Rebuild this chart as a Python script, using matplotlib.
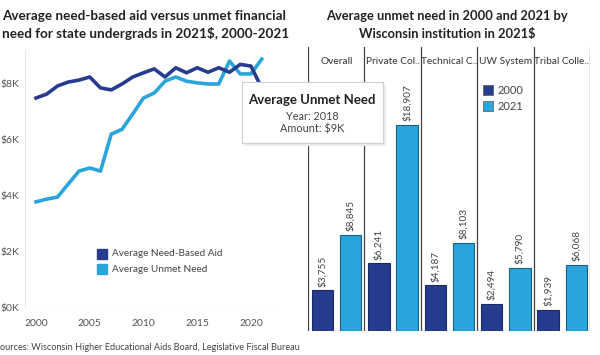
import matplotlib
matplotlib.use('Agg')
import matplotlib.pyplot as plt
from matplotlib.patches import Rectangle
import numpy as np

plt.rcParams['font.family'] = ['Lato', 'DejaVu Sans']

# line chart data (thousands of 2021$)
years = list(range(2000, 2022))
need_aid = [7.50, 7.64, 7.93, 8.07, 8.14, 8.25, 7.86, 7.79, 8.00, 8.25, 8.40,
            8.54, 8.25, 8.58, 8.40, 8.58, 8.42, 8.58, 8.42, 8.70, 8.64, 7.85]
unmet_need = [3.79, 3.89, 3.96, 4.43, 4.89, 5.00, 4.89, 6.21, 6.38, 6.93, 7.50,
              7.68, 8.10, 8.25, 8.10, 8.04, 8.00, 8.00, 8.82, 8.36, 8.36, 8.89]

# bar chart data
institutions = ['Overall', 'Private Col..', 'Technical C..', 'UW System', 'Tribal Colle..']
unmet_2000 = [3755, 6241, 4187, 2494, 1939]
unmet_2021 = [8845, 18907, 8103, 5790, 6068]

dark = '#283c8e'
light = '#2aa5dc'

W, H = 600, 355
fig = plt.figure(figsize=(6, 3.55), dpi=100)

def fx(px):
    return px / W

def fy(py):
    return 1 - py / H

# titles
tkw = dict(fontweight='bold', color='#222222', va='center')
fig.text(fx(2), fy(16), 'Average need-based aid versus unmet financial', ha='left', fontsize=9.7, **tkw)
fig.text(fx(2), fy(34), 'need for state undergrads in 2021$, 2000-2021', ha='left', fontsize=9.7, **tkw)
fig.text(fx(447), fy(16), 'Average unmet need in 2000 and 2021 by', ha='center', fontsize=9.3, **tkw)
fig.text(fx(447), fy(34), 'Wisconsin institution in 2021$', ha='center', fontsize=9.3, **tkw)

# left line chart
ax = fig.add_axes([fx(25), fy(308), fx(277 - 25), (308 - 50) / H])
ax.plot(years, need_aid, color=dark, lw=2.6, solid_joinstyle='round', zorder=3)
ax.plot(years, unmet_need, color=light, lw=2.6, solid_joinstyle='round', zorder=2)
ax.set_xlim(2000 - 11 / 10.75, 2000 + (277 - 36) / 10.75)
ax.set_ylim(0, (308 - 50) / 28)
ax.set_xticks([2000, 2005, 2010, 2015, 2020])
ax.set_yticks([0, 2, 4, 6, 8])
ax.set_yticklabels(['$0K', '$2K', '$4K', '$6K', '$8K'])
ax.tick_params(length=0, labelsize=7.5, colors='#555555', pad=4)
ax.tick_params(axis='x', pad=8)
for s in ax.spines.values():
    s.set_visible(False)
ax.axvline(ax.get_xlim()[0], color='#e6e6e6', lw=0.8)
ax.axhline(0, color='#eeeeee', lw=0.8)

# legend (left)
for i, (lab, c) in enumerate([('Average Need-Based Aid', dark), ('Average Unmet Need', light)]):
    yy = 254 + i * 15
    fig.patches.append(Rectangle((fx(97), fy(yy + 5)), fx(10), 10 / H, color=c,
                                 transform=fig.transFigure, figure=fig))
    fig.text(fx(112), fy(yy), lab, fontsize=7.2, color='#444444', va='center', ha='left')

fig.text(fx(-5), fy(348), 'Sources: Wisconsin Higher Educational Aids Board, Legislative Fiscal Bureau',
         fontsize=6.6, color='#444444', va='center', ha='left')

# right bar chart
bx = fig.add_axes([fx(308), fy(331), fx(590 - 308), (331 - 47) / H])
n = len(institutions)
pos = np.arange(n)
bw = 0.38
b1 = bx.bar(pos + 0.257, unmet_2000, width=bw, color=dark, edgecolor='#1a2a66', lw=0.8)
b2 = bx.bar(pos + 0.757, unmet_2021, width=bw, color=light, edgecolor='#1d5f80', lw=0.8)
bx.set_xlim(0, n)
bx.set_ylim(0, (331 - 47) / 10.9 * 1000)
bx.set_xticks([])
bx.set_yticks([])
for s in bx.spines.values():
    s.set_visible(False)
for k in range(n + 1):
    bx.axvline(k, color='#444444', lw=0.9)
for rects, vals in ((b1, unmet_2000), (b2, unmet_2021)):
    for r, v in zip(rects, vals):
        bx.annotate(f'${v:,}', (r.get_x() + r.get_width() / 2, v), xytext=(0, 2.5),
                    textcoords='offset points', rotation=90, ha='center', va='bottom',
                    fontsize=7.2, color='#444444')
for k, name in enumerate(institutions):
    bx.text(k + 0.5, 0.95, name, transform=bx.get_xaxis_transform(), ha='center', va='center',
            fontsize=7.3, color='#333333')

# legend (right)
for i, (lab, c) in enumerate([('2000', dark), ('2021', light)]):
    yy = 90 + i * 16
    fig.patches.append(Rectangle((fx(483), fy(yy + 5)), fx(10), 10 / H, facecolor=c,
                                 edgecolor='#555555', lw=0.5,
                                 transform=fig.transFigure, figure=fig))
    fig.text(fx(498), fy(yy), lab, fontsize=8, color='#444444', va='center', ha='left')

# tooltip with a soft shadow
for off, col in ((2.5, '#ececec'), (1.2, '#dcdcdc')):
    fig.patches.append(Rectangle((fx(242 + off), fy(143 + off)), fx(383 - 242), (143 - 82) / H,
                                 facecolor=col, edgecolor='none',
                                 transform=fig.transFigure, figure=fig, zorder=9))
fig.patches.append(Rectangle((fx(242), fy(143)), fx(383 - 242), (143 - 82) / H,
                             facecolor='white', edgecolor='#d0d0d0', lw=0.8,
                             transform=fig.transFigure, figure=fig, zorder=10))
fig.text(fx(312), fy(100), 'Average Unmet Need', fontsize=9.5, fontweight='bold', color='#222222',
         ha='center', va='center', zorder=11)
fig.text(fx(312), fy(116), 'Year: 2018', fontsize=7.8, color='#444444', ha='center', va='center', zorder=11)
fig.text(fx(312), fy(129), 'Amount: $9K', fontsize=7.8, color='#444444', ha='center', va='center', zorder=11)

fig.savefig('out.png', dpi=100)
